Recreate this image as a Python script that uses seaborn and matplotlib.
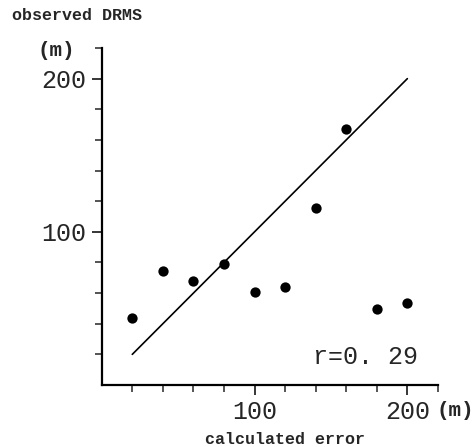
import matplotlib
matplotlib.use("Agg")
import matplotlib.pyplot as plt
import seaborn as sns
import pandas as pd

# Data
calc_error = [20, 40, 60, 80, 100, 120, 140, 160, 180, 200]
observed_drms = [43.6, 74.3, 67.6, 78.8, 60.6, 63.8, 115.3, 167.2, 49.5, 53.4]
ref_line_x = [20, 200]
ref_line_y = [20, 200]
major_ticks = [100, 200]
minor_ticks = [20, 40, 60, 80, 120, 140, 160, 180, 220]
r_text = "r=0. 29"

df = pd.DataFrame({"calc": calc_error, "obs": observed_drms})
line_df = pd.DataFrame({"x": ref_line_x, "y": ref_line_y})

sns.set_style("ticks")
plt.rcParams["font.family"] = ["Liberation Mono", "DejaVu Sans Mono"]

fig = plt.figure(figsize=(4.76, 4.47), dpi=100)
ax = fig.add_axes([0.2137, 0.1387, 0.7063, 0.7539])

sns.lineplot(data=line_df, x="x", y="y", color="black", linewidth=1.2, ax=ax)
sns.scatterplot(data=df, x="calc", y="obs", color="black", s=55,
                edgecolor="black", linewidth=0, ax=ax, zorder=3)

ax.set_xlim(0, 220)
ax.set_ylim(0, 220)
ax.set_xticks(major_ticks)
ax.set_yticks(major_ticks)
ax.set_xticks(minor_ticks, minor=True)
ax.set_yticks(minor_ticks, minor=True)
ax.set_xticklabels([str(t) for t in major_ticks], fontsize=18)
ax.set_yticklabels([str(t) for t in major_ticks], fontsize=18)
ax.tick_params(which="major", length=7, width=1.3, direction="out", pad=4)
ax.tick_params(which="minor", length=5, width=1.1, direction="out")

for side in ["top", "right"]:
    ax.spines[side].set_visible(False)
for side in ["left", "bottom"]:
    ax.spines[side].set_linewidth(1.6)
    ax.spines[side].set_color("black")

ax.set_xlabel("")
ax.set_ylabel("")

ax.text(0.786, 0.083, r_text, transform=ax.transAxes, ha="center", va="center",
        fontsize=18)

fig.text(12 / 476, 1 - 16 / 447, "observed DRMS", ha="left", va="center",
         fontsize=12, fontweight="bold")
fig.text(56 / 476, 1 - 50 / 447, "(m)", ha="center", va="center",
         fontsize=15, fontweight="bold")
fig.text(455 / 476, 1 - 411 / 447, "(m)", ha="center", va="center",
         fontsize=15, fontweight="bold")
fig.text(285 / 476, 1 - 440 / 447, "calculated error", ha="center",
         va="center", fontsize=12, fontweight="bold")

fig.savefig("out.png", dpi=100)
